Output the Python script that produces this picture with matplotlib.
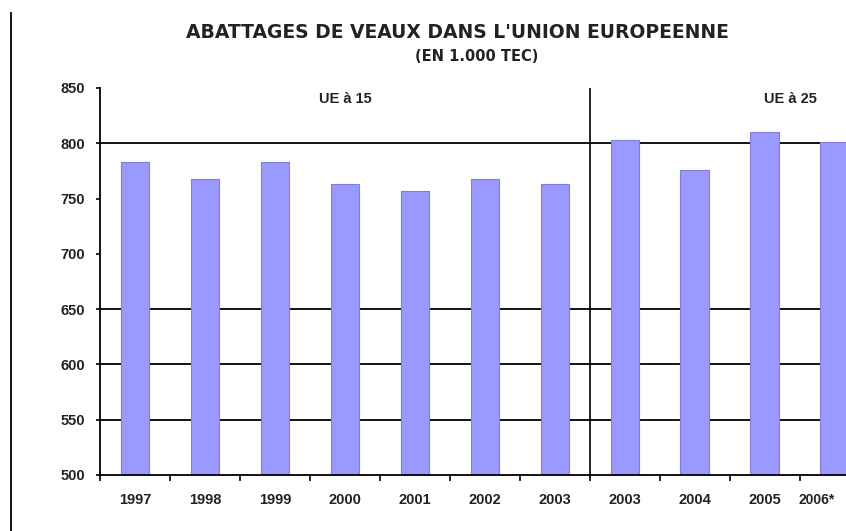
import numpy as np
import matplotlib
matplotlib.use("Agg")
import matplotlib.pyplot as plt
from matplotlib.lines import Line2D

# ---- data ----
years = ["1997", "1998", "1999", "2000", "2001", "2002", "2003",
         "2003", "2004", "2005", "2006*"]
tonnage = [783, 768, 783, 763, 757, 768, 763,
           803, 776, 810, 801]
grid_values = [550, 600, 650, 800]
y_ticks = [500, 550, 600, 650, 700, 750, 800, 850]
group_labels = ["UE à 15", "UE à 25"]
n_ue15 = 7

BAR_COLOR = "#9999ff"
EDGE_COLOR = "#7f7fd8"

plt.rcParams['font.family'] = ['Liberation Sans', 'DejaVu Sans']

fig = plt.figure(figsize=(8.46, 5.31), dpi=100)
ax = fig.add_axes([0.1182, 0.1055, 0.8818, 0.7288])

x = np.arange(len(years)) + 0.5
ax.bar(x, tonnage, width=0.41, color=BAR_COLOR, edgecolor=EDGE_COLOR,
       linewidth=0.8, zorder=1)

for v in grid_values:
    ax.axhline(v, color="black", linewidth=1.3, zorder=0)

# separator between EU-15 and EU-25
ax.axvline(n_ue15, color="black", linewidth=1.2, zorder=2)

ax.set_xlim(0, 10.66)
ax.set_ylim(500, 850)
ax.set_yticks(y_ticks)
ax.set_yticklabels([str(v) for v in y_ticks])
ax.set_xticks(x)
ax.set_xticklabels(years)
ax.set_xticks(np.arange(0, 11), minor=True)

ax.tick_params(axis="y", length=3, width=1.2, pad=8, labelsize=10.5, colors="black")
ax.tick_params(axis="x", which="major", length=0, pad=13, labelsize=10.5)
ax.tick_params(axis="x", which="minor", length=4, width=1.2, direction="out")
for lab in ax.get_xticklabels() + ax.get_yticklabels():
    lab.set_fontweight("bold")
    lab.set_color("#222222")
# last label sits at the cropped right edge
ax.get_xticklabels()[-1].set_horizontalalignment("right")
ax.get_xticklabels()[-1].set_fontsize(10)

for s in ["top", "right"]:
    ax.spines[s].set_visible(False)
ax.spines["left"].set_linewidth(1.3)
ax.spines["bottom"].set_linewidth(1.3)

ax.text(n_ue15 / 2, 840, group_labels[0], ha="center", va="center",
        fontsize=10.5, fontweight="bold", color="#222222")
ax.text(9.86, 840, group_labels[1], ha="center", va="center",
        fontsize=10.5, fontweight="bold", color="#222222")

fig.text(0.541, 0.938, "ABATTAGES DE VEAUX DANS L'UNION EUROPEENNE",
         ha="center", va="center", fontsize=13.5, fontweight="bold",
         family=["DejaVu Sans"], color="#222222")
fig.text(0.563, 0.893, "(EN 1.000 TEC)", ha="center", va="center",
         fontsize=10.5, fontweight="bold", family=["DejaVu Sans"],
         color="#222222")

# page border line on the left
fig.add_artist(Line2D([0.013, 0.013], [0.0, 0.976], color="black",
                      linewidth=1.3, transform=fig.transFigure))

fig.savefig("out.png", dpi=100)
